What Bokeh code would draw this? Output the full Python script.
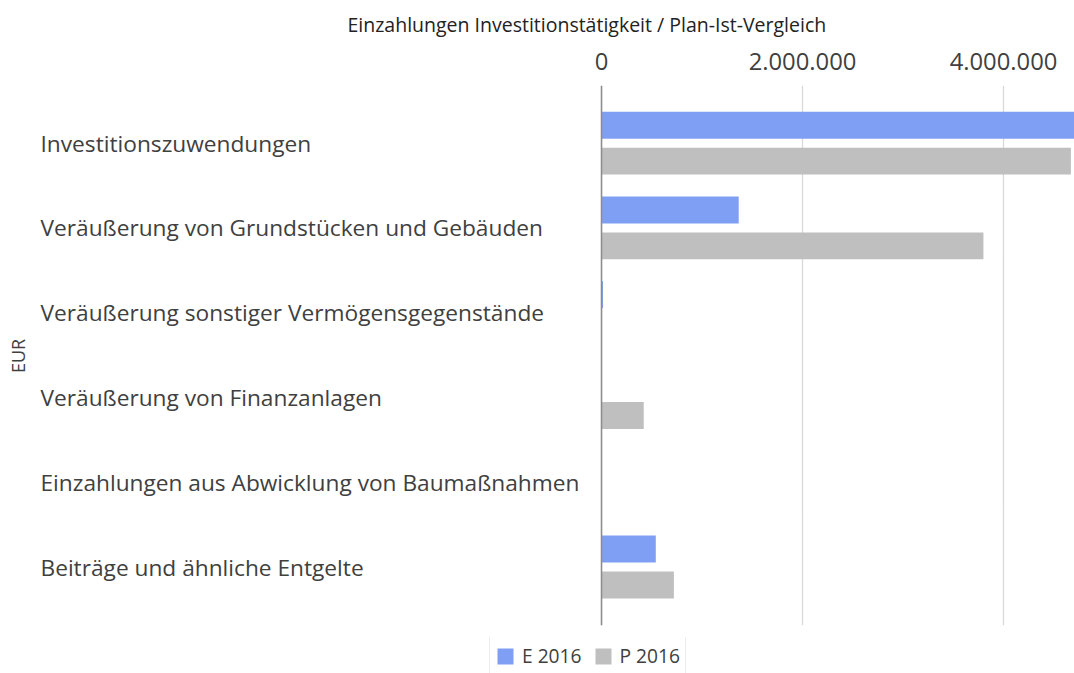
import math
from bokeh.plotting import figure
from bokeh.layouts import column
from bokeh.models import (Range1d, FixedTicker, Span, Legend, LegendItem,
                          ColumnDataSource)
from bokeh.core.properties import value
from bokeh.transform import dodge
from bokeh.embed import file_html
from bokeh.resources import INLINE

# ---------------- data ----------------
categories = [
    "Investitionszuwendungen",
    "Veräußerung von Grundstücken und Gebäuden",
    "Veräußerung sonstiger Vermögensgegenstände",
    "Veräußerung von Finanzanlagen",
    "Einzahlungen aus Abwicklung von Baumaßnahmen",
    "Beiträge und ähnliche Entgelte",
]
e_2016 = [4850000, 1365000, 15000, 0, 0, 540000]
p_2016 = [4670000, 3800000, 0, 420000, 0, 720000]
series_names = ["E 2016", "P 2016"]
tick_values = [0, 2000000, 4000000]
tick_labels = ["0", "2.000.000", "4.000.000"]
title_text = "Einzahlungen Investitionstätigkeit / Plan-Ist-Vergleich"
y_axis_title = "EUR"

# ---------------- styling ----------------
FONT = "Open Sans"
BLUE = "#7F9FF5"
GREY = "#BFBFBF"
TEXT = "#404040"

positions = list(range(len(categories)))
src = ColumnDataSource(dict(y=positions, cat=categories, e=e_2016, p=p_2016))

p = figure(
    width=1074, height=637,
    x_range=Range1d(-5.980e6, 4.706e6),
    y_range=Range1d(5.69, -0.68),
    x_axis_location="above", y_axis_location=None,
    output_backend="svg", toolbar_location=None,
    min_border_left=0, min_border_right=0, min_border_top=85,
    min_border_bottom=12,
    title=title_text,
)
p.outline_line_color = None
p.background_fill_color = "white"
p.border_fill_color = "white"
p.ygrid.visible = False

p.title.text_font = FONT
p.title.text_font_size = "19.5px"
p.title.text_font_style = "normal"
p.title.text_color = "#222222"
p.title.align = "left"
p.title.vertical_align = "top"
p.title.offset = 347
p.title.standoff = 20

ticker = FixedTicker(ticks=tick_values)
ax = p.xaxis[0]
ax.ticker = ticker
ax.major_label_overrides = {v: l for v, l in zip(tick_values, tick_labels)}
ax.axis_line_color = None
ax.major_tick_line_color = None
ax.minor_tick_line_color = None
ax.major_label_text_font = FONT
ax.major_label_text_font_size = "23.8px"
ax.major_label_text_color = TEXT
ax.major_label_standoff = 10

p.xgrid.ticker = ticker
p.xgrid.grid_line_color = "#D9D9D9"
p.xgrid.grid_line_width = 1.3

rE = p.hbar(y=dodge("y", -0.212, range=p.y_range), right="e", left=0,
            height=0.318, source=src, fill_color=BLUE, line_color=None)
rP = p.hbar(y=dodge("y", 0.212, range=p.y_range), right="p", left=0,
            height=0.318, source=src, fill_color=GREY, line_color=None)

p.add_layout(Span(location=0, dimension="height", line_color="#8C8C8C",
                  line_width=1.5))

p.text(x=-5.582e6, y="y", text="cat", source=src,
       text_font=value(FONT), text_font_size="22.7px", text_color=TEXT,
       text_align="left", text_baseline="middle")

p.text(x=[-5.801e6], y=[2.51], text=[y_axis_title], angle=math.pi / 2,
       text_font=value(FONT), text_font_size="18px", text_color=TEXT,
       text_align="center", text_baseline="middle")

# ---------------- legend strip ----------------
lg = figure(
    width=1074, height=36,
    x_range=Range1d(0, 1), y_range=Range1d(0, 1),
    x_axis_location=None, y_axis_location=None,
    output_backend="svg", toolbar_location=None,
    min_border_left=0, min_border_right=0, min_border_top=0,
    min_border_bottom=0,
)
lg.outline_line_color = None
lg.xgrid.visible = False
lg.ygrid.visible = False
# legend-only renderers (no visible bar: right edge is NaN)
nan = float("nan")
dE = lg.hbar(y=[0.5], left=[0], right=[nan], height=0.5,
             fill_color=BLUE, line_color=None)
dP = lg.hbar(y=[0.5], left=[0], right=[nan], height=0.5,
             fill_color=GREY, line_color=None)

legend = Legend(
    items=[LegendItem(label=series_names[0], renderers=[dE]),
           LegendItem(label=series_names[1], renderers=[dP])],
    orientation="horizontal", location=(489, -2),
    border_line_color="#D9D9D9", border_line_width=1,
    background_fill_color="white",
    label_text_font=FONT, label_text_font_size="19.2px",
    label_text_color=TEXT, glyph_width=20, glyph_height=20,
    padding=5, spacing=11, margin=0, label_standoff=7,
)
lg.add_layout(legend, "center")

layout = column(p, lg, spacing=0)
open("out.html", "w").write(file_html(layout, INLINE))
